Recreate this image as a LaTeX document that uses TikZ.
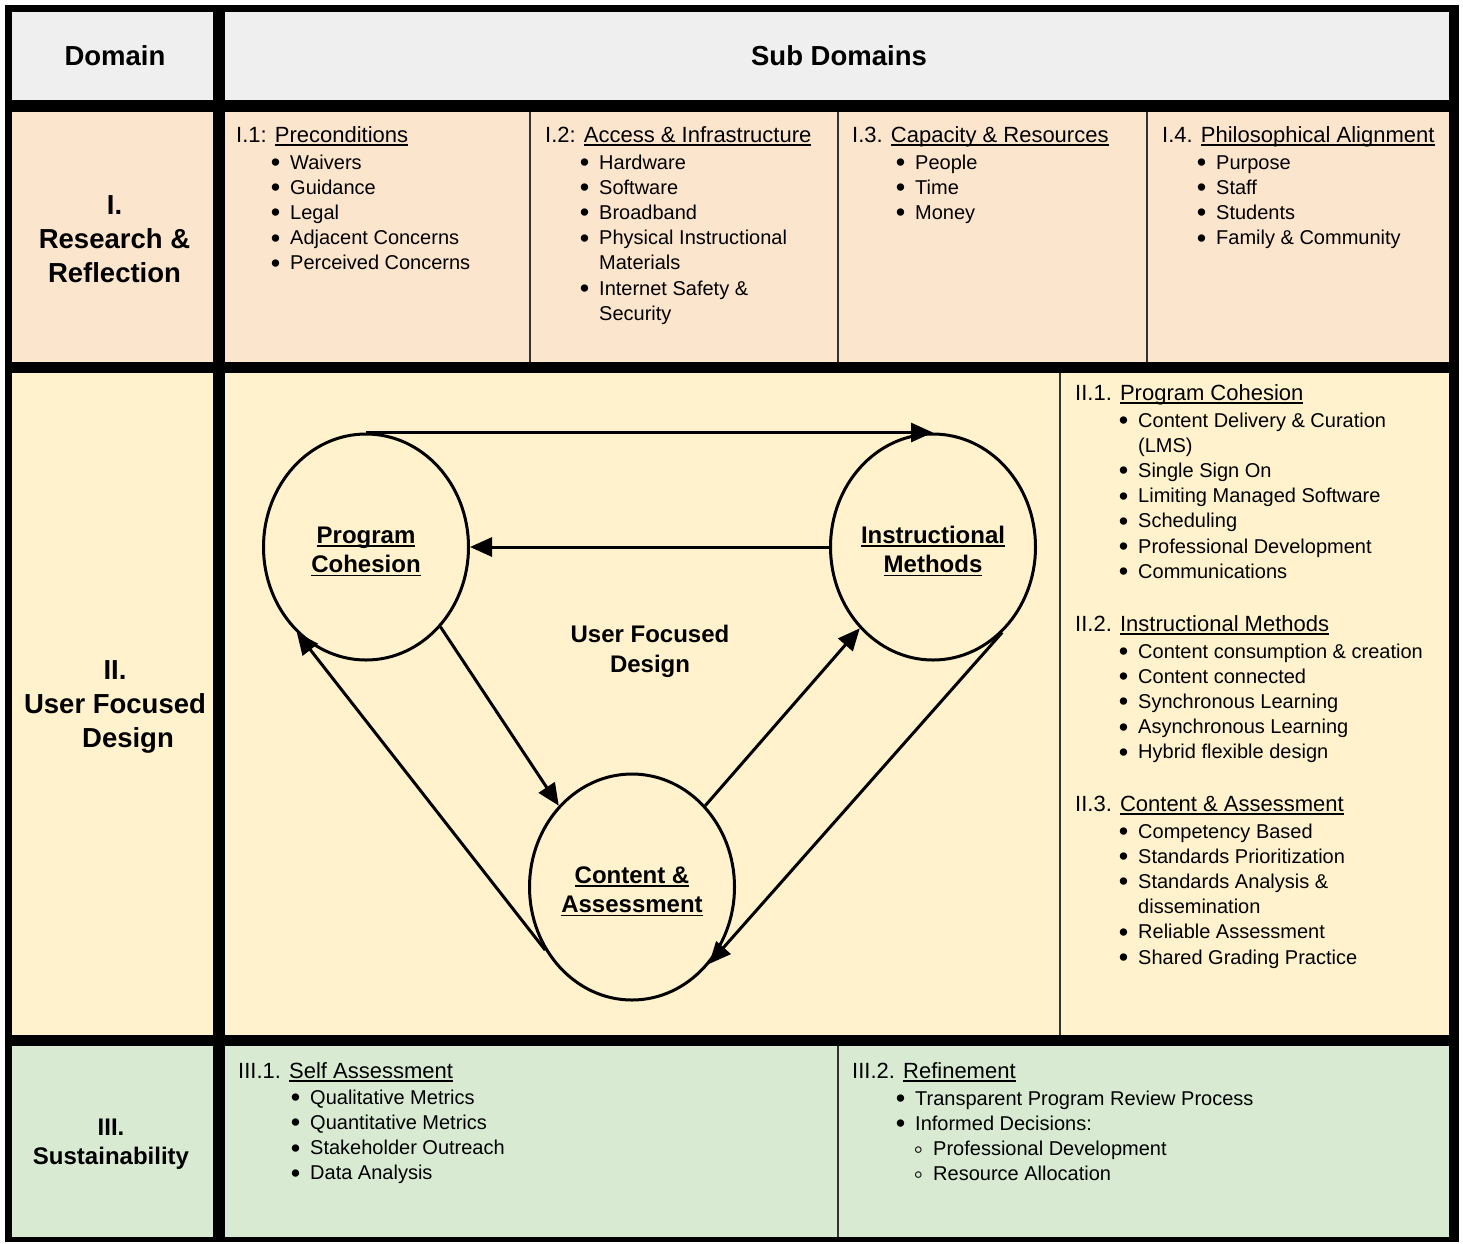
\documentclass[tikz,border=0pt]{standalone}
\usepackage{fontspec}
\setmainfont{Liberation Sans}
\usetikzlibrary{arrows.meta,shapes.geometric}
\definecolor{hdrgray}{HTML}{EFEFEF}
\definecolor{peach}{HTML}{FCE5CD}
\definecolor{cream}{HTML}{FFF2CC}
\definecolor{sage}{HTML}{D9EAD3}
\newcommand{\uln}[1]{\begingroup\setbox0\hbox{#1}\rlap{\rule[-3.5pt]{\wd0}{1.3pt}}\box0\endgroup}
\newcommand{\bul}{\llap{\raisebox{-2.5pt}{\scalebox{1.35}{\textbullet}}\hspace{10pt}}}
\newcommand{\obul}{\hspace*{18pt}\llap{\raisebox{-2.5pt}{\scalebox{1.35}{\char"25E6}}\hspace{10pt}}}
\newcommand{\hd}[2]{{\fontsize{22}{25}\selectfont#1 \uln{#2}}}
\newcommand{\lift}{\rule{0pt}{25pt}}
\begin{document}
\begin{tikzpicture}[x=1pt,y=-1pt,
    body/.style={anchor=base west,inner sep=0pt,font=\fontsize{20}{25}\selectfont},
    dom/.style={align=center,inner sep=0pt,font=\fontsize{27.5}{34}\selectfont\bfseries},
    blob/.style={draw,ellipse,line width=3pt,inner sep=0pt,minimum width=205pt,minimum height=226pt,
      align=center,font=\fontsize{24}{29.5}\selectfont\bfseries},
    link/.style={line width=3pt,-{Triangle[length=22pt,width=19pt]}},
    divider/.style={line width=1.5pt,black!80}]
  \useasboundingbox (0,0) rectangle (1463,1243);
  \fill[white] (0,0) rectangle (1463,1243);
  \fill[black] (5,5) rectangle (1459,1242);
  \foreach \c/\a/\b in {hdrgray/12/100, peach/112/362, cream/373/1035, sage/1046/1237}{
    \fill[\c] (12,\a) rectangle (213,\b);
    \fill[\c] (225,\a) rectangle (1449,\b);
  }
  \foreach \x/\a/\b in {530/112/362, 838/112/362, 1147/112/362, 1060/373/1035, 838/1046/1237}
    \draw[divider] (\x,\a) -- (\x,\b);

  \node[dom] (domhd) at (115,56) {Domain};
  \node[dom] (subhd) at (839,56) {Sub Domains};
  \node[dom] (d1) at (114.5,239) {I.\\Research \&\\Reflection};
  \node[dom] (d2) at (115,707) {II.\\User Focused\\\hspace*{26pt}Design};
  \node[dom,font=\fontsize{24}{29}\selectfont\bfseries] (d3) at (111,1144) {III.\\Sustainability};

  \foreach \n/\x/\h/\t in {p/236/I.1:/Preconditions, q/545/I.2:/Access \& Infrastructure,
      r/852/I.3./Capacity \& Resources, s/1162/I.4./Philosophical Alignment}
    \node[body] (\n) at (\x,142) {\hd{\h}{\t}};
  \foreach \t [count=\k] in {\bul Waivers, \bul Guidance, \bul Legal, \bul Adjacent Concerns, \bul Perceived Concerns}
    \node[body] (p\k) at (290,{169+25.2*(\k-1)}) {\t};
  \foreach \t [count=\k] in {\bul Hardware, \bul Software, \bul Broadband, \bul Physical Instructional, Materials,
      \bul Internet Safety \&, Security}
    \node[body] (q\k) at (599,{169+25.2*(\k-1)}) {\t};
  \foreach \t [count=\k] in {\bul People, \bul Time, \bul Money}
    \node[body] (r\k) at (915,{169+25.2*(\k-1)}) {\t};
  \foreach \t [count=\k] in {\bul Purpose, \bul Staff, \bul Students, \bul Family \& Community}
    \node[body] (s\k) at (1216,{169+25.2*(\k-1)}) {\t};

  \foreach \n/\y/\h/\t in {e/400/II.1./Program Cohesion, f/631/II.2./Instructional Methods,
      g/811/II.3./Content \& Assessment}
    \node[body] (\n) at (1075,\y) {\hd{\h}{\t}};
  \foreach \t [count=\k] in {\bul Content Delivery \& Curation, (LMS), \bul Single Sign On,
      \bul Limiting Managed Software, \bul Scheduling, \bul Professional Development, \bul Communications}
    \node[body] (e\k) at (1138,{427+25.2*(\k-1)}) {\t};
  \foreach \t [count=\k] in {\bul Content consumption \& creation, \bul Content connected,
      \bul Synchronous Learning, \bul Asynchronous Learning, \bul Hybrid flexible design}
    \node[body] (f\k) at (1138,{658+25.2*(\k-1)}) {\t};
  \foreach \t [count=\k] in {\bul Competency Based, \bul Standards Prioritization, \bul Standards Analysis \&,
      dissemination, \bul Reliable Assessment, \bul Shared Grading Practice}
    \node[body] (g\k) at (1138,{838+25.2*(\k-1)}) {\t};

  \node[body] (t) at (238,1078) {\hd{III.1.}{Self Assessment}};
  \node[body] (u) at (852,1078) {\hd{III.2.}{Refinement}};
  \foreach \t [count=\k] in {\bul Qualitative Metrics, \bul Quantitative Metrics, \bul Stakeholder Outreach,
      \bul Data Analysis}
    \node[body] (t\k) at (310,{1104+25.3*(\k-1)}) {\t};
  \foreach \t [count=\k] in {\bul Transparent Program Review Process, \bul Informed Decisions:,
      \obul Professional Development, \obul Resource Allocation}
    \node[body] (u\k) at (915,{1105+25.3*(\k-1)}) {\t};

  \node[blob] (pc) at (366,547) {\lift\uln{Program}\\\uln{Cohesion}};
  \node[blob] (im) at (933,547) {\lift\uln{Instructional}\\\uln{Methods}};
  \node[blob] (ca) at (632,887) {\lift\uln{Content \&}\\\uln{Assessment}};
  \node[align=center,font=\fontsize{24}{30}\selectfont\bfseries] (ufd) at (650,651) {User Focused\\Design};

  \draw[link] (pc.north) -- (im.north);
  \draw[link] (im.west) -- (pc.east);
  \draw[link] (pc.-47) -- (ca.132);
  \draw[link] (ca.48) -- (im.228);
  \draw[link] (im.-51) -- (ca.-45);
  \draw[link] (ca.-144) -- (pc.231);
\end{tikzpicture}
\end{document}
